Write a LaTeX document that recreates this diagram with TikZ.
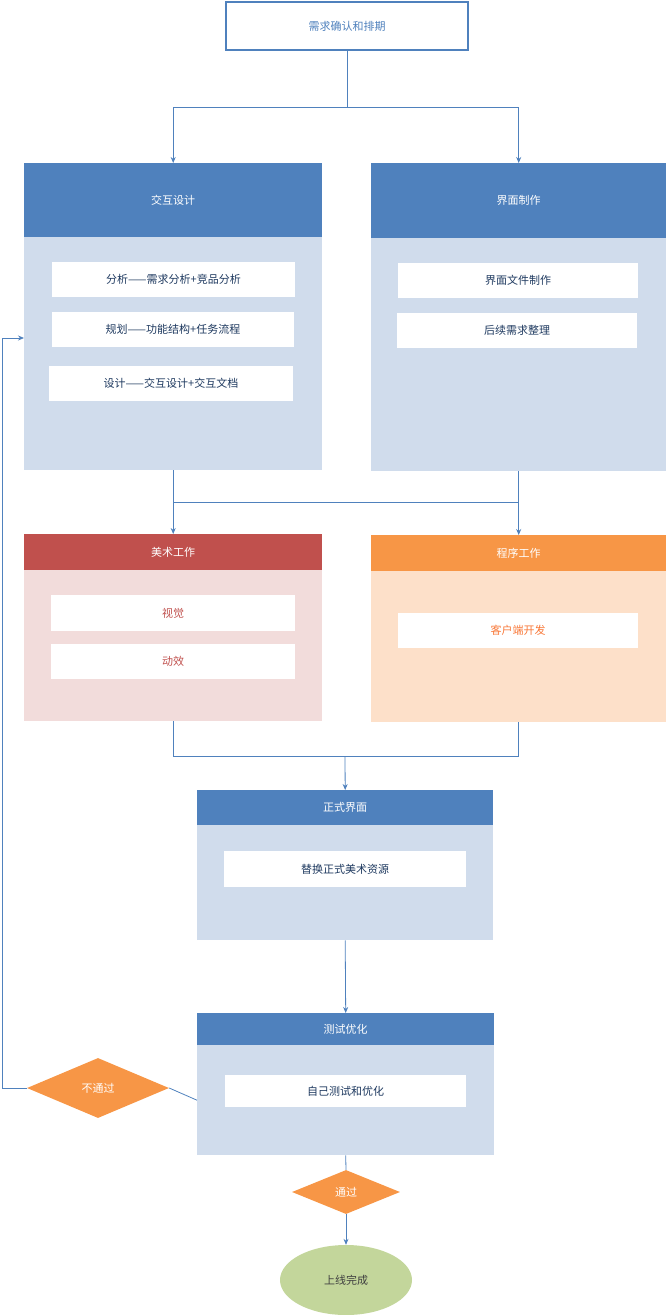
\documentclass[tikz,border=0pt]{standalone}
\usepackage{fontspec}
\newfontfamily\cjk{Noto Sans CJK SC}
\usetikzlibrary{shapes.geometric,arrows.meta}
\definecolor{hblue}{HTML}{4F81BD}
\definecolor{bblue}{HTML}{D0DCEC}
\definecolor{hred}{HTML}{C0504D}
\definecolor{bred}{HTML}{F2DCDB}
\definecolor{horange}{HTML}{F79646}
\definecolor{borange}{HTML}{FDE0C9}
\definecolor{tdark}{HTML}{1F3A60}
\definecolor{green}{HTML}{C3D69B}
\tikzset{
  box/.style={draw=none,inner sep=0,anchor=north west,font=\cjk\fontsize{11}{13}\selectfont},
  head/.style={box,text=white},
  item/.style={box,fill=white,anchor=center,text=tdark},
  line/.style={draw=hblue,line width=0.8pt},
  arr/.style={line,-{Stealth[length=6pt,width=5pt]}}
}
\begin{document}
\begin{tikzpicture}[x=1pt,y=-1pt]
  \useasboundingbox (0,0) rectangle (666,1315);
  \node[box,draw=hblue,line width=1.5pt,fill=white,anchor=center,minimum width=242,minimum height=48,text=hblue] (start) at (347,26) {需求确认和排期};
  % interaction design
  \node[head,fill=hblue,minimum width=298,minimum height=74] (jh) at (24,163) {交互设计};
  \node[box,fill=bblue,minimum width=298,minimum height=233] (jb) at (24,237) {};
  \node[item,minimum width=243,minimum height=35] (j1) at (173.5,279.5) {分析——需求分析+竞品分析};
  \node[item,minimum width=242,minimum height=35] (j2) at (173,329.5) {规划——功能结构+任务流程};
  \node[item,minimum width=244,minimum height=35] (j3) at (171,383.5) {设计——交互设计+交互文档};
  % ui
  \node[head,fill=hblue,minimum width=295,minimum height=75] (uh) at (371,163) {界面制作};
  \node[box,fill=bblue,minimum width=295,minimum height=233] (ub) at (371,238) {};
  \node[item,minimum width=240,minimum height=35] (u1) at (518,280.5) {界面文件制作};
  \node[item,minimum width=240,minimum height=35] (u2) at (517,330.5) {后续需求整理};
  % art
  \node[head,fill=hred,minimum width=298,minimum height=36] (ah) at (24,534) {美术工作};
  \node[box,fill=bred,minimum width=298,minimum height=151] (ab) at (24,570) {};
  \node[item,minimum width=244,minimum height=36,text=hred] (a1) at (173,613) {视觉};
  \node[item,minimum width=244,minimum height=35,text=hred] (a2) at (173,661.5) {动效};
  % program
  \node[head,fill=horange,minimum width=295,minimum height=36] (ph) at (371,535) {程序工作};
  \node[box,fill=borange,minimum width=295,minimum height=151] (pb) at (371,571) {};
  \node[item,minimum width=240,minimum height=35,text=horange!80!red] (p1) at (518,630.5) {客户端开发};
  % formal ui
  \node[head,fill=hblue,minimum width=296,minimum height=35] (fh) at (197,790) {正式界面};
  \node[box,fill=bblue,minimum width=296,minimum height=115] (fb) at (197,825) {};
  \node[item,minimum width=242,minimum height=36] (f1) at (345,869) {替换正式美术资源};
  % test
  \node[head,fill=hblue,minimum width=297,minimum height=32] (th) at (197,1013) {测试优化};
  \node[box,fill=bblue,minimum width=297,minimum height=110] (tb) at (197,1045) {};
  \node[item,minimum width=241,minimum height=32] (t1) at (345.5,1091) {自己测试和优化};
  % decisions
  \node[box,anchor=center,diamond,fill=horange,text=white,minimum width=142,minimum height=60,aspect=2.37] (fail) at (98,1088) {不通过};
  \node[box,anchor=center,diamond,fill=horange,text=white,minimum width=108,minimum height=44,aspect=2.45] (pass) at (346,1192) {通过};
  \node[box,anchor=center,ellipse,fill=green,text=black!75,minimum width=132,minimum height=70] (done) at (346,1280) {上线完成};
  \coordinate (back) at (2,1088);
  % connectors
  \draw[line] (start.south) -- (347,107) coordinate (split);
  \draw[arr] (split) -| (jh.north);
  \draw[arr] (split) -| (uh.north);
  \draw[arr] (jb.south) -- (ah.north);
  \draw[arr] (ub.south) -- (ph.north);
  \draw[line] (174,502) -- (519,502);
  \draw[line] (ab.south) |- (345,756);
  \draw[line] (pb.south) |- (345,756);
  \draw[arr] (345,756) -- (fh.north);
  \draw[arr] (fb.south) -- (th.north);
  \draw[line] (tb.west) -- (fail.east);
  \draw[arr] (fail.west) -- (back) |- (24,338);
  \draw[line] (tb.south) -- (pass.north);
  \draw[arr] (pass.south) -- (done.north);
\end{tikzpicture}
\end{document}
